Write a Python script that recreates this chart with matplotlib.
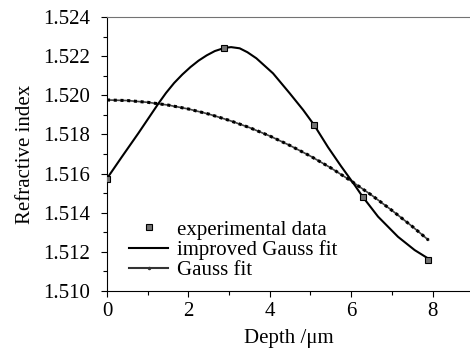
import numpy as np
import matplotlib
matplotlib.use("Agg")
import matplotlib.pyplot as plt
from matplotlib.ticker import MultipleLocator, FormatStrFormatter

# experimental points
depth_exp = [0.0, 2.88, 5.09, 6.28, 7.90]
n_exp = [1.5157, 1.5224, 1.5185, 1.5148, 1.5116]

# improved Gauss fit
depth_imp = [0.0, 0.36, 0.77, 1.26, 1.45, 1.65, 1.85, 2.05, 2.25, 2.45, 2.65, 2.90, 3.05,
             3.26, 3.45, 3.67, 4.08, 4.49, 4.82, 5.09, 5.43, 5.75, 6.09, 6.27, 6.66,
             7.15, 7.56, 7.90]
n_imp = [1.51575, 1.51684, 1.51806, 1.51957, 1.52012, 1.52063, 1.52106, 1.52144,
         1.52177, 1.52204, 1.52226, 1.52243, 1.52246, 1.52240, 1.52220, 1.52189,
         1.52112, 1.52010, 1.51925, 1.51848, 1.51735, 1.51638, 1.51540, 1.51485,
         1.51380, 1.51277, 1.51209, 1.51165]

# Gauss fit
depth_g = [0.0, 0.5, 1.0, 1.5, 2.0, 2.5, 3.0, 3.5, 4.0, 4.5, 5.0, 5.5, 6.0, 6.5,
           7.0, 7.5, 7.9]
n_g = [1.51976, 1.51973, 1.51964, 1.51950, 1.51930, 1.51904, 1.51872, 1.51835,
       1.51792, 1.51743, 1.51689, 1.51629, 1.51562, 1.51490, 1.51412, 1.51330,
       1.51260]

plt.rcParams['font.family'] = ['Liberation Serif', 'DejaVu Serif']

fig = plt.figure(figsize=(4.7, 3.54), dpi=100)
ax = fig.add_axes([0.2277, 0.178, 0.7723, 0.774])

ax.plot(depth_imp, n_imp, color='black', lw=1.5, label='improved Gauss fit', zorder=3)
ax.plot(depth_g, n_g, color='0.25', lw=1.2, zorder=2)
ax.plot(depth_g, n_g, color='black', lw=2.2, ls=(0, (1, 1.2)), zorder=2)
ax.plot([], [], color='0.2', lw=1.5, marker='.', markersize=3, label='Gauss fit')
ax.plot(depth_exp, n_exp, ls='none', marker='s', markersize=4, mfc='0.45', mec='black',
        mew=0.8, label='experimental data', zorder=4)

ax.set_xlim(0, 8.92)
ax.set_ylim(1.510, 1.524)
ax.xaxis.set_major_locator(MultipleLocator(2))
ax.xaxis.set_minor_locator(MultipleLocator(1))
ax.yaxis.set_major_locator(MultipleLocator(0.002))
ax.yaxis.set_minor_locator(MultipleLocator(0.001))
ax.yaxis.set_major_formatter(FormatStrFormatter('%.3f'))
ax.tick_params(which='major', length=4, width=0.8, labelsize=15, direction='out')
ax.tick_params(axis='y', which='major', pad=8)
ax.tick_params(axis='x', which='major', pad=4)
ax.tick_params(which='minor', length=3, width=0.8, direction='out')
ax.spines['right'].set_visible(False)
ax.spines['top'].set_color('0.45')
ax.set_xlabel('Depth /μm', fontsize=15, labelpad=6)
ax.set_ylabel('Refractive index', fontsize=15, labelpad=6)

h, l = ax.get_legend_handles_labels()
order = [2, 0, 1]
ax.legend([h[i] for i in order], [l[i] for i in order], loc='lower left',
          bbox_to_anchor=(0.06, 0.04), frameon=False, fontsize=15,
          handlelength=1.9, handletextpad=0.4, labelspacing=0.02, borderaxespad=0.0,
          borderpad=0.0)

fig.savefig('out.png', dpi=100)
